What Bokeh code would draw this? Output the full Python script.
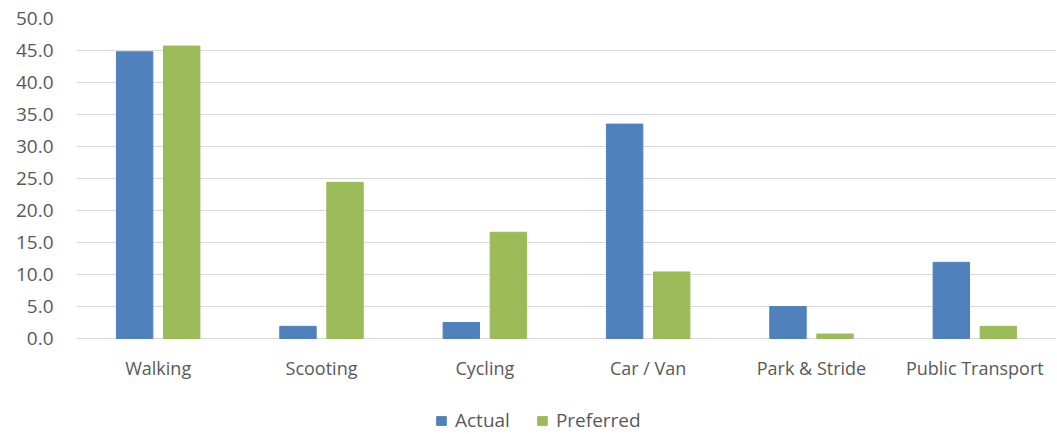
from bokeh.plotting import figure
from bokeh.models import (ColumnDataSource, FactorRange, Range1d, Legend, LegendItem,
                          NumeralTickFormatter, FixedTicker)
from bokeh.transform import dodge
from bokeh.embed import file_html
from bokeh.resources import INLINE

categories = ["Walking", "Scooting", "Cycling", "Car / Van", "Park & Stride", "Public Transport"]
actual = [44.8, 1.9, 2.5, 33.5, 5.0, 11.9]
preferred = [45.7, 24.4, 16.6, 10.4, 0.7, 1.9]
y_ticks = [0, 5, 10, 15, 20, 25, 30, 35, 40, 45, 50]

FONT = "Open Sans"
TXT = "#595959"
BLUE = "#4F81BD"
GREEN = "#9BBB59"

src = ColumnDataSource(dict(cat=categories, actual=actual, preferred=preferred))

# frame extends below zero to host the category labels and the legend
p = figure(x_range=FactorRange(factors=categories, range_padding=0),
           y_range=Range1d(-15, 50),
           frame_width=980, frame_height=416, output_backend="svg", toolbar_location=None,
           min_border_left=76, min_border_top=18, min_border_right=0, min_border_bottom=0)

r1 = p.vbar(x=dodge("cat", -0.144, range=p.x_range), top="actual", width=0.223,
            source=src, fill_color=BLUE, line_color=BLUE)
r2 = p.vbar(x=dodge("cat", 0.144, range=p.x_range), top="preferred", width=0.223,
            source=src, fill_color=GREEN, line_color=GREEN)

p.outline_line_color = None
p.xgrid.grid_line_color = None
p.ygrid.grid_line_color = "#D9D9D9"
p.ygrid.grid_line_width = 1
p.yaxis.ticker = FixedTicker(ticks=y_ticks)
p.yaxis.formatter = NumeralTickFormatter(format="0.0")

for ax in (p.xaxis[0], p.yaxis[0]):
    ax.axis_line_color = None
    ax.major_tick_line_color = None
    ax.minor_tick_line_color = None
    ax.major_tick_out = 0
    ax.major_tick_in = 0
    ax.minor_tick_out = 0
    ax.major_label_text_font = FONT
    ax.major_label_text_font_size = "18px"
    ax.major_label_text_color = TXT

p.yaxis.major_label_text_font_size = "19px"
p.yaxis.major_label_standoff = 23
p.xaxis.major_label_standoff = 17
p.xaxis.fixed_location = 0

legend = Legend(items=[LegendItem(label="Actual", renderers=[r1]),
                       LegendItem(label="Preferred", renderers=[r2])],
                orientation="horizontal", location=(359, 1),
                border_line_color=None, background_fill_alpha=0,
                padding=0, margin=0, spacing=26,
                glyph_width=12, glyph_height=11, label_standoff=8,
                label_text_font=FONT, label_text_font_size="19px",
                label_text_color=TXT)
p.add_layout(legend, "center")

open("out.html", "w").write(file_html(p, INLINE))
